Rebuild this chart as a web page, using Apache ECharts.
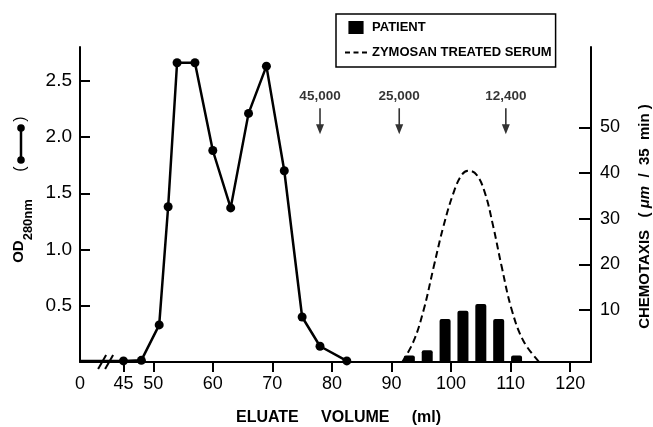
<!DOCTYPE html>
<html>
<head>
<meta charset="utf-8">
<script src="https://cdn.jsdelivr.net/npm/echarts@6/dist/echarts.min.js"></script>
<style>
    html, body { margin: 0; padding: 0; background: #fff; }
    #chart { width: 653px; height: 427px; }
</style>
</head>
<body>
<div id="chart"></div>
<script>
// the x axis is broken: the "0" label sits at this eluate volume position
const ORIGIN_ML = 37.7;
const X_MAX_ML = 123.5;
const X_TICKS = [45, 50, 60, 70, 80, 90, 100, 110, 120];
const OD_TICKS = [0.5, 1.0, 1.5, 2.0, 2.5];
const CHEMO_TICKS = [10, 20, 30, 40, 50];

// OD 280nm of fractions
const OD_ORIGIN = 0.01;
const OD_ML = [45, 48, 51, 52.5, 54, 57, 60, 63, 66, 69, 72, 75, 78, 82.5];
const OD_VALUES = [0.01, 0.015, 0.33, 1.38, 2.66, 2.66, 1.88, 1.37, 2.21, 2.63, 1.70, 0.40, 0.14, 0.01];

// chemotaxis, patient fractions
const PATIENT_ML = [93, 96, 99, 102, 105, 108, 111];
const PATIENT_VALUES = [0, 1.2, 8.0, 9.8, 11.3, 8.0, 0];

// chemotaxis, zymosan treated serum
const SERUM_ML = [91.8, 93.7, 95.4, 97.1, 98.7, 100.4, 101.8, 102.9, 104.3, 105.7, 107.1, 108.5, 110.2, 112.2, 114.8];
const SERUM_VALUES = [-1.4, 3.1, 10.0, 19.5, 28.2, 35.6, 39.6, 40.5, 39.6, 35.6, 28.2, 19.5, 10.0, 3.1, -1.4];

// molecular weight markers
const MW_ML = [78, 91.3, 109.2];
const MW_LABELS = ["45,000", "25,000", "12,400"];
const MW_ARROW_OD = 2.14;

const BREAK_ML = 42;

const chart = echarts.init(document.getElementById("chart"));

const black = "#000";
const FONT = "Liberation Sans";

const option = {
    animation: false,
    backgroundColor: "#fff",
    grid: { left: 80, right: 62, top: 47, bottom: 65, outerBoundsMode: "none" },
    legend: {
        left: 336,
        top: 14,
        orient: "vertical",
        padding: [7, 4, 8, 9],
        itemGap: 12,
        itemWidth: 22,
        itemHeight: 13,
        borderColor: black,
        borderWidth: 1.5,
        textStyle: { color: black, fontFamily: FONT, fontWeight: "bold", fontSize: 13 },
        data: [
            { name: "PATIENT", icon: "path://M0,0L14,0L14,12L0,12Z" },
            {
                name: "ZYMOSAN TREATED SERUM",
                icon: "path://M0,0L5,0L5,2L0,2Z M8.5,0L13.5,0L13.5,2L8.5,2Z M17,0L22,0L22,2L17,2Z",
                itemStyle: { color: black },
            },
        ],
    },
    xAxis: {
        type: "value",
        min: ORIGIN_ML,
        max: X_MAX_ML,
        name: "ELUATE     VOLUME     (ml)",
        nameLocation: "middle",
        nameGap: 48,
        nameTextStyle: { color: black, fontFamily: FONT, fontWeight: "bold", fontSize: 16, padding: [0, 0, 0, 6] },
        axisLine: { show: true, onZero: false, lineStyle: { color: black, width: 2 } },
        axisTick: { show: true, customValues: X_TICKS, length: 10, lineStyle: { color: black, width: 2 } },
        axisLabel: {
            customValues: [ORIGIN_ML, ...X_TICKS],
            formatter: (v) => (Math.abs(v - ORIGIN_ML) < 0.01 ? "0" : String(v)),
            margin: 13,
            color: black,
            fontFamily: FONT,
            fontSize: 18,
        },
        splitLine: { show: false },
    },
    yAxis: [
        {
            type: "value",
            position: "left",
            min: 0,
            max: 2.8,
            name: "{a|OD}{b|280nm}",
            nameLocation: "middle",
            nameRotate: 90,
            nameGap: 50,
            nameTextStyle: {
                padding: [0, 53, 0, 0],
                rich: {
                    a: { fontFamily: FONT, fontWeight: "bold", fontSize: 15, lineHeight: 16, verticalAlign: "top", color: black },
                    b: { fontFamily: FONT, fontWeight: "bold", fontSize: 13, lineHeight: 13, padding: [10, 0, 0, 0], verticalAlign: "top", color: black },
                },
            },
            axisLine: { show: true, lineStyle: { color: black, width: 2 } },
            axisTick: { show: true, inside: true, length: 10, customValues: OD_TICKS, lineStyle: { color: black, width: 2 } },
            axisLabel: { color: black, fontFamily: FONT, fontSize: 19, margin: 8, customValues: OD_TICKS, formatter: (v) => v.toFixed(1) },
            splitLine: { show: false },
        },
        {
            type: "value",
            position: "right",
            min: -1.4,
            max: 67.6,
            name: "{t|CHEMOTAXIS   ( }{u|μm}{t|  /  35  min )}",
            nameLocation: "middle",
            nameRotate: 90,
            nameGap: 46,
            nameTextStyle: {
                padding: [0, 24, 0, 0],
                rich: {
                    t: { fontFamily: FONT, fontWeight: "bold", fontSize: 15, color: black },
                    u: { fontFamily: FONT, fontStyle: "italic", fontWeight: "bold", fontSize: 15, color: black },
                },
            },
            axisLine: { show: true, lineStyle: { color: black, width: 2 } },
            axisTick: { show: true, inside: true, length: 12, customValues: CHEMO_TICKS, lineStyle: { color: black, width: 2 } },
            axisLabel: { color: black, fontFamily: FONT, fontSize: 18, margin: 9, customValues: CHEMO_TICKS },
            splitLine: { show: false },
        },
    ],
    series: [
        {
            name: "PATIENT",
            type: "custom",
            yAxisIndex: 1,
            itemStyle: { color: black },
            encode: { x: 0, y: 1 },
            data: PATIENT_ML.map((ml, i) => [ml, PATIENT_VALUES[i]]),
            renderItem(params, api) {
                const top = api.coord([api.value(0), api.value(1)]);
                const bottom = params.coordSys.y + params.coordSys.height;
                return {
                    type: "rect",
                    shape: { x: top[0] - 5.5, y: top[1], width: 11, height: bottom - top[1], r: [2, 2, 0, 0] },
                    style: { fill: black },
                };
            },
        },
        {
            name: "ZYMOSAN TREATED SERUM",
            type: "line",
            yAxisIndex: 1,
            smooth: 0.4,
            symbol: "none",
            lineStyle: { color: black, width: 2, type: [7, 4] },
            itemStyle: { color: black },
            data: SERUM_ML.map((ml, i) => [ml, SERUM_VALUES[i]]),
        },
        {
            name: "OD280",
            type: "line",
            yAxisIndex: 0,
            symbol: "circle",
            symbolSize: 9,
            z: 5,
            lineStyle: { color: black, width: 2.5 },
            itemStyle: { color: black },
            data: [
                { value: [ORIGIN_ML, OD_ORIGIN], symbol: "none" },
                ...OD_ML.map((ml, i) => [ml, OD_VALUES[i]]),
            ],
        },
        {
            name: "MW",
            type: "scatter",
            yAxisIndex: 0,
            symbol: "path://M3.2,0L4.8,0L4.8,16L8,16L4,26L0,16L3.2,16Z",
            symbolSize: [8, 26],
            itemStyle: { color: black },
            label: {
                show: true,
                position: "top",
                distance: 5,
                formatter: (p) => p.name,
                color: black,
                fontFamily: FONT,
                fontWeight: "bold",
                fontSize: 13.5,
            },
            data: MW_ML.map((ml, i) => ({ name: MW_LABELS[i], value: [ml, MW_ARROW_OD] })),
        },
    ],
};

chart.setOption(option);

// break marks on the x axis and the OD line key beside the left axis name
const brk = chart.convertToPixel({ gridIndex: 0 }, [BREAK_ML, 0]);
chart.setOption({
    graphic: [
        {
            type: "group",
            children: [-3.5, 3.5].map((dx) => ({
                type: "line",
                shape: { x1: brk[0] + dx - 4, y1: brk[1] + 7, x2: brk[0] + dx + 4, y2: brk[1] - 7 },
                style: { stroke: black, lineWidth: 2 },
            })),
        },
        {
            type: "group",
            x: 21,
            y: 144,
            rotation: Math.PI / 2,
            children: [
                { type: "text", x: -25, y: 0, style: { text: "(", fill: black, font: "16px Liberation Sans", align: "center", verticalAlign: "middle" } },
                { type: "text", x: 25, y: 0, style: { text: ")", fill: black, font: "16px Liberation Sans", align: "center", verticalAlign: "middle" } },
                { type: "line", shape: { x1: -16, y1: 0, x2: 16, y2: 0 }, style: { stroke: black, lineWidth: 2.5 } },
                { type: "circle", shape: { cx: -16, cy: 0, r: 3.8 }, style: { fill: black } },
                { type: "circle", shape: { cx: 16, cy: 0, r: 3.8 }, style: { fill: black } },
            ],
        },
    ],
});
</script>
</body>
</html>
